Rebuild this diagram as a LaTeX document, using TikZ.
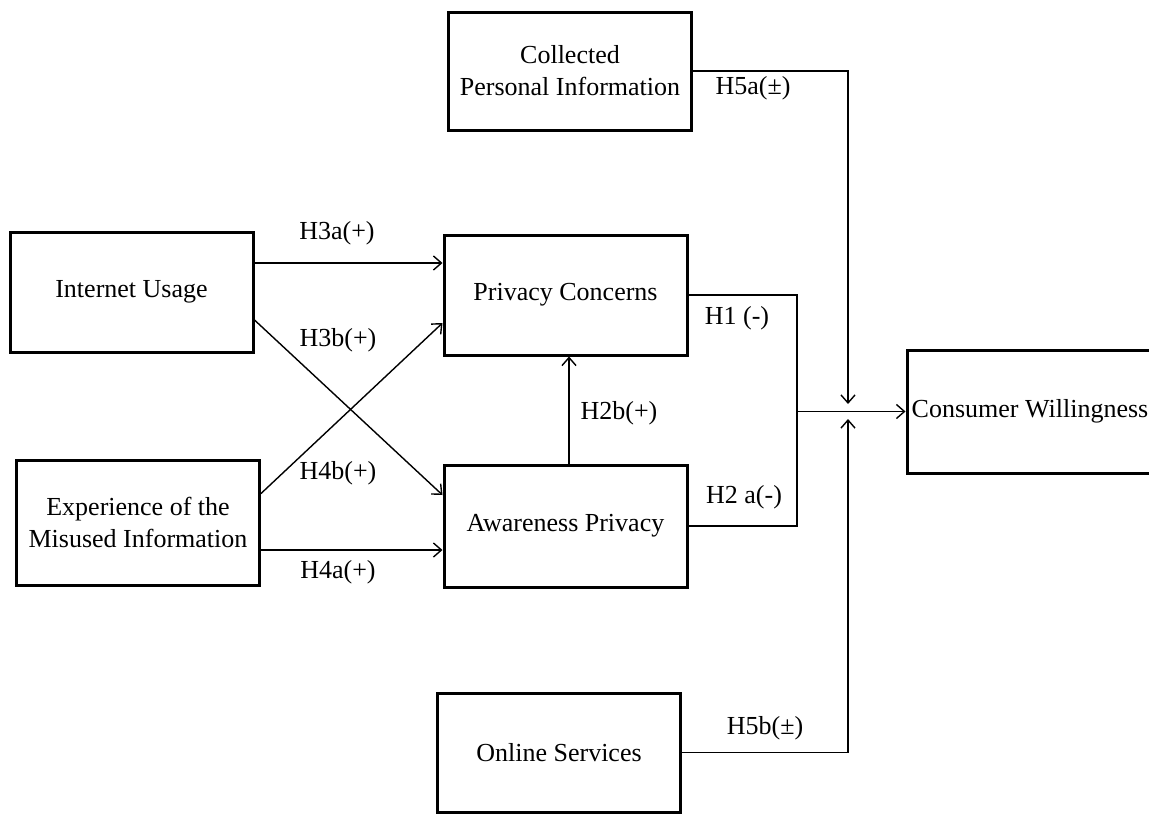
\documentclass[tikz,border=0pt]{standalone}
\usepackage{fontspec}
\setmainfont{Liberation Serif}
\usetikzlibrary{arrows.meta, positioning, calc}

\begin{document}
\begin{tikzpicture}[
    x = 0.5pt, y = -0.5pt,
    every node/.style = {font=\fontsize{13}{16}\selectfont},
    box/.style = {
        draw,
        line width=1.5pt,
        minimum width=121.5pt,
        minimum height=60pt,
        align=center,
        inner sep=0pt
    },
    arr/.style = {
        -{Straight Barb[length=4pt,width=7pt]},
        line width=0.7pt
    },
    link/.style = {line width=0.7pt}
]

\useasboundingbox (0,0) rectangle (1149,814);

%% Boxes
\node[box, minimum height=59pt]   (collected)   at (570,71)     {Collected\\Personal Information};
\node[box]                        (internet)    at (131.5,292)  {Internet Usage};
\node[box]                        (concerns)    at (565.5,295)  {Privacy Concerns};
\node[box, minimum height=62.5pt] (experience)  at (138,522.5)  {Experience of the\\Misused Information};
\node[box, below=53.5pt of concerns, minimum height=61pt] (awareness) {Awareness Privacy};
\node[box, minimum width=123pt, minimum height=61.5pt] (willingness) at (1030,411.5) {Consumer Willingness};
\node[box, minimum height=59.5pt] (online)      at (559,752.5)  {Online Services};

%% Junction points
\coordinate (merge) at (797,411.5);
\coordinate (topin) at (848,404);
\coordinate (botin) at (848,419);

%% Arrows
\draw[arr] ($(internet.east)+(0,-29)$)     -- ($(concerns.west)+(0,-32)$);
\draw[arr] ($(internet.east)+(0,28)$)      -- ($(awareness.west)+(0,-31)$);
\draw[arr] ($(experience.east)+(0,-29)$)   -- ($(concerns.west)+(0,28)$);
\draw[arr] ($(experience.east)+(0,27.5)$)  -- ($(awareness.west)+(0,24)$);
\draw[arr] ($(awareness.north)+(3.5,0)$)   -- ($(concerns.south)+(3.5,0)$);
\draw[link] (concerns.east)  -| (merge);
\draw[link] (awareness.east) -| (merge);
\draw[arr]  (merge) -- (willingness);
\draw[arr]  (collected.east) -| (topin);
\draw[arr]  (online.east)    -| (botin);

%% Labels
\node (h3a) at (337,233) {H3a(+)};
\node (h3b) at (338,340) {H3b(+)};
\node (h4b) at (338,473) {H4b(+)};
\node (h4a) at (338,572) {H4a(+)};
\node (h2b) at (619,413) {H2b(+)};
\node (h1)  at (737,318) {H1 (-)};
\node (h2a) at (744,497) {H2 a(-)};
\node (h5a) at (753,88)  {H5a(±)};
\node (h5b) at (765,728) {H5b(±)};

\end{tikzpicture}
\end{document}
